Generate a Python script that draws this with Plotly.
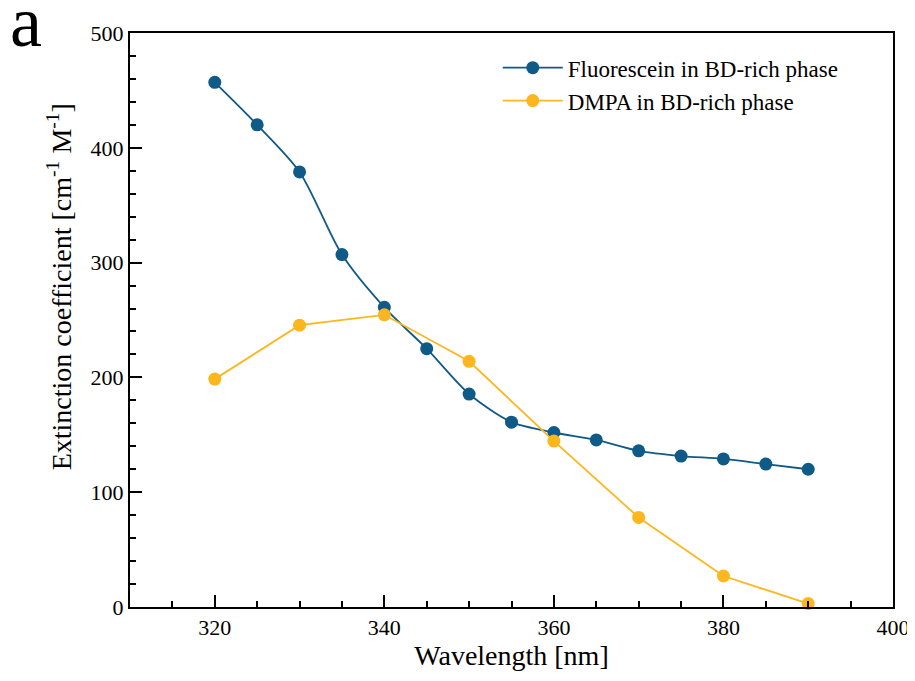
import plotly.graph_objects as go

wl_fluo = [320, 325, 330, 335, 340, 345, 350, 355, 360, 365, 370, 375, 380, 385, 390]
eps_fluo = [457, 420, 379, 307, 261, 225, 185.5, 161, 152, 145.5, 136, 131.5, 129, 124.5, 120]
wl_dmpa = [320, 330, 340, 350, 360, 370, 380, 390]
eps_dmpa = [198.5, 245.5, 254.5, 214, 144.5, 78, 27, 3]

blue = "#0f5a86"
orange = "#fdb71e"
font = "Liberation Serif"

fig = go.Figure()
fig.add_trace(go.Scatter(x=wl_fluo, y=eps_fluo, mode="lines+markers",
                         name="Fluorescein in BD-rich phase",
                         line=dict(color=blue, width=1.8, shape="spline", smoothing=0.8),
                         marker=dict(color=blue, size=13), cliponaxis=False))
fig.add_trace(go.Scatter(x=wl_dmpa, y=eps_dmpa, mode="lines+markers",
                         name="DMPA in BD-rich phase",
                         line=dict(color=orange, width=1.8),
                         marker=dict(color=orange, size=13), cliponaxis=False))

axis_common = dict(showline=True, linecolor="black", linewidth=2, mirror=True,
                   ticks="inside", ticklen=12, tickwidth=2, tickcolor="black",
                   showgrid=False, zeroline=False, automargin=False,
                   tickfont=dict(family=font, size=22, color="black"),
                   minor=dict(ticks="inside", ticklen=6, tickwidth=2, tickcolor="black", showgrid=False))

fig.update_xaxes(range=[310, 400], dtick=20, tick0=320,
                 title=dict(text="Wavelength [nm]", font=dict(family=font, size=28, color="black"), standoff=2),
                 **axis_common)
fig.update_yaxes(range=[0, 500], dtick=100, **axis_common)

fig.add_annotation(text="Extinction coefficient [cm<sup>-1</sup> M<sup>-1</sup>]",
                   xref="paper", yref="paper", x=-0.093, y=0.557, textangle=-90,
                   xanchor="center", yanchor="middle", showarrow=False,
                   font=dict(family=font, size=28, color="black"))

fig.add_annotation(text="a", xref="paper", yref="paper", x=-0.16, y=1.02,
                   xanchor="left", yanchor="middle", showarrow=False,
                   font=dict(family=font, size=72, color="black"))

fig.update_layout(width=907, height=665,
                  margin=dict(l=122, r=22, t=25, b=66, autoexpand=False),
                  plot_bgcolor="white", paper_bgcolor="white",
                  font=dict(family=font, color="black"),
                  legend=dict(x=0.482, y=0.977, xanchor="left", yanchor="top",
                              bgcolor="rgba(0,0,0,0)", font=dict(family=font, size=23, color="black"),
                              itemwidth=60, tracegroupgap=0),
                  showlegend=True)

fig.write_html("out.html")
